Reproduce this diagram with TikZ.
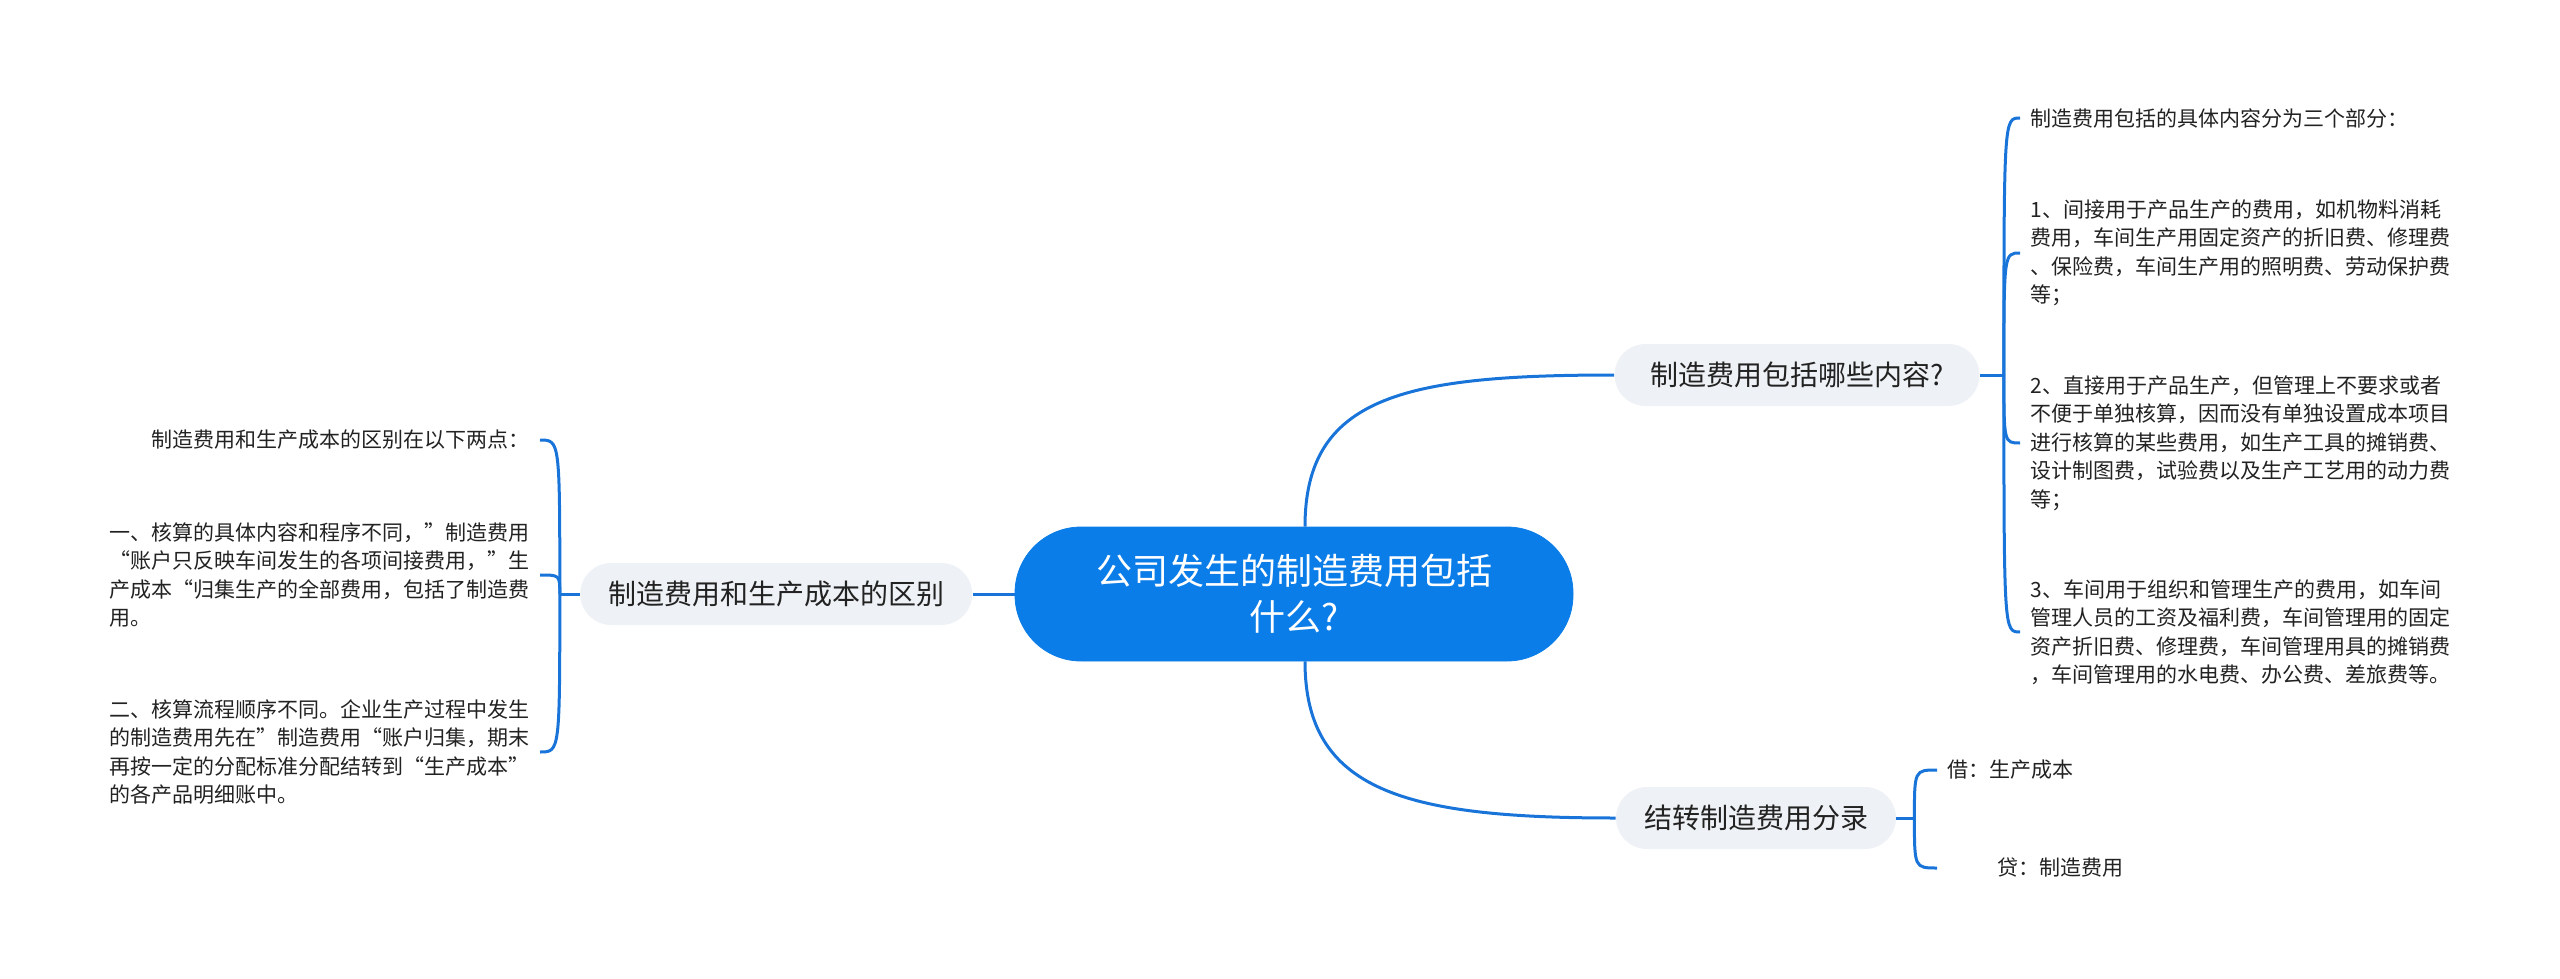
\documentclass[tikz,border=0pt]{standalone}
\usepackage{fontspec}
\setmainfont{Noto Sans CJK SC}
\usetikzlibrary{positioning, calc}
\definecolor{linkblue}{RGB}{24,116,216}
\definecolor{rootblue}{RGB}{11,125,232}
\definecolor{branchgray}{RGB}{238,241,245}
\definecolor{inkgray}{RGB}{34,34,34}
\begin{document}
\begin{tikzpicture}[x=0.5pt,y=-0.5pt,
  root/.style={rectangle,fill=rootblue,draw=rootblue,text=white,rounded corners=33pt,minimum width=279pt,minimum height=67pt,align=center,font=\fontsize{18pt}{23pt}\selectfont},
  br/.style={rectangle,fill=branchgray,text=inkgray,rounded corners=15.5pt,minimum height=31pt,inner xsep=14pt,font=\fontsize{14pt}{16pt}\selectfont},
  lf/.style={inner xsep=5pt,inner ysep=0pt,align=left,text=inkgray,font=\fontsize{10.5pt}{14.25pt}\selectfont},
  ln/.style={draw=linkblue,line width=1.5pt}
]
  \useasboundingbox (0,0) rectangle (2560,979);
  \node[root](root) at (1294,594){公司发生的制造费用包括\\什么?};
  \node[br,left=21pt of root](diff){制造费用和生产成本的区别};
  \node[br,minimum width=182.5pt](cont) at (1797,375){制造费用包括哪些内容?};
  \node[br](entry) at (1756,818){结转制造费用分录};

  \node[lf,anchor=west](c0) at (2020,118){制造费用包括的具体内容分为三个部分：};
  \node[lf,anchor=west](c1) at (2020,253){1、间接用于产品生产的费用，如机物料消耗\\
    费用，车间生产用固定资产的折旧费、修理费\\
    、保险费，车间生产用的照明费、劳动保护费\\
    等；};
  \node[lf,anchor=west](c2) at (2020,443){2、直接用于产品生产，但管理上不要求或者\\
    不便于单独核算，因而没有单独设置成本项目\\
    进行核算的某些费用，如生产工具的摊销费、\\
    设计制图费，试验费以及生产工艺用的动力费\\
    等；};
  \node[lf,anchor=west](c3) at (2020,632){3、车间用于组织和管理生产的费用，如车间\\
    管理人员的工资及福利费，车间管理用的固定\\
    资产折旧费、修理费，车间管理用具的摊销费\\
    ，车间管理用的水电费、办公费、差旅费等。};

  \node[lf,anchor=east](d0) at (540,440){制造费用和生产成本的区别在以下两点：};
  \node[lf,anchor=east](d1) at (540,575){一、核算的具体内容和程序不同，”制造费用\\
    “账户只反映车间发生的各项间接费用，”生\\
    产成本“归集生产的全部费用，包括了制造费\\
    用。};
  \node[lf,anchor=east](d2) at (540,752){二、核算流程顺序不同。企业生产过程中发生\\
    的制造费用先在”制造费用“账户归集，期末\\
    再按一定的分配标准分配结转到“生产成本”\\
    的各产品明细账中。};

  \node[lf,anchor=west](e1) at (1937,770){借：生产成本};
  \node[lf,anchor=west](e2) at (1937,868){\hspace*{25pt}贷：制造费用};

  \draw[ln] (root.west) -- (diff.east);
  \draw[ln] ([xshift=5.5pt]root.north) .. controls +(0,-130) and +(-210,0) .. (cont.west);
  \draw[ln] ([xshift=5.5pt]root.south) .. controls +(0,130) and +(-210,0) .. (entry.west);

  \coordinate (jc) at ([xshift=12pt]cont.east);
  \coordinate (jd) at ([xshift=-10pt]diff.west);
  \coordinate (je) at ([xshift=9pt]entry.east);
  \draw[ln] (cont.east) -- (jc);
  \draw[ln] (diff.west) -- (jd);
  \draw[ln] (entry.east) -- (je);
  \foreach \n in {c0,c1,c2,c3}{\draw[ln] (jc) .. controls (jc |- \n.west) .. (\n.west);}
  \foreach \n in {d0,d1,d2}{\draw[ln] (jd) .. controls (jd |- \n.east) .. (\n.east);}
  \foreach \n in {e1,e2}{\draw[ln] (je) .. controls (je |- \n.west) .. (\n.west);}
\end{tikzpicture}
\end{document}
